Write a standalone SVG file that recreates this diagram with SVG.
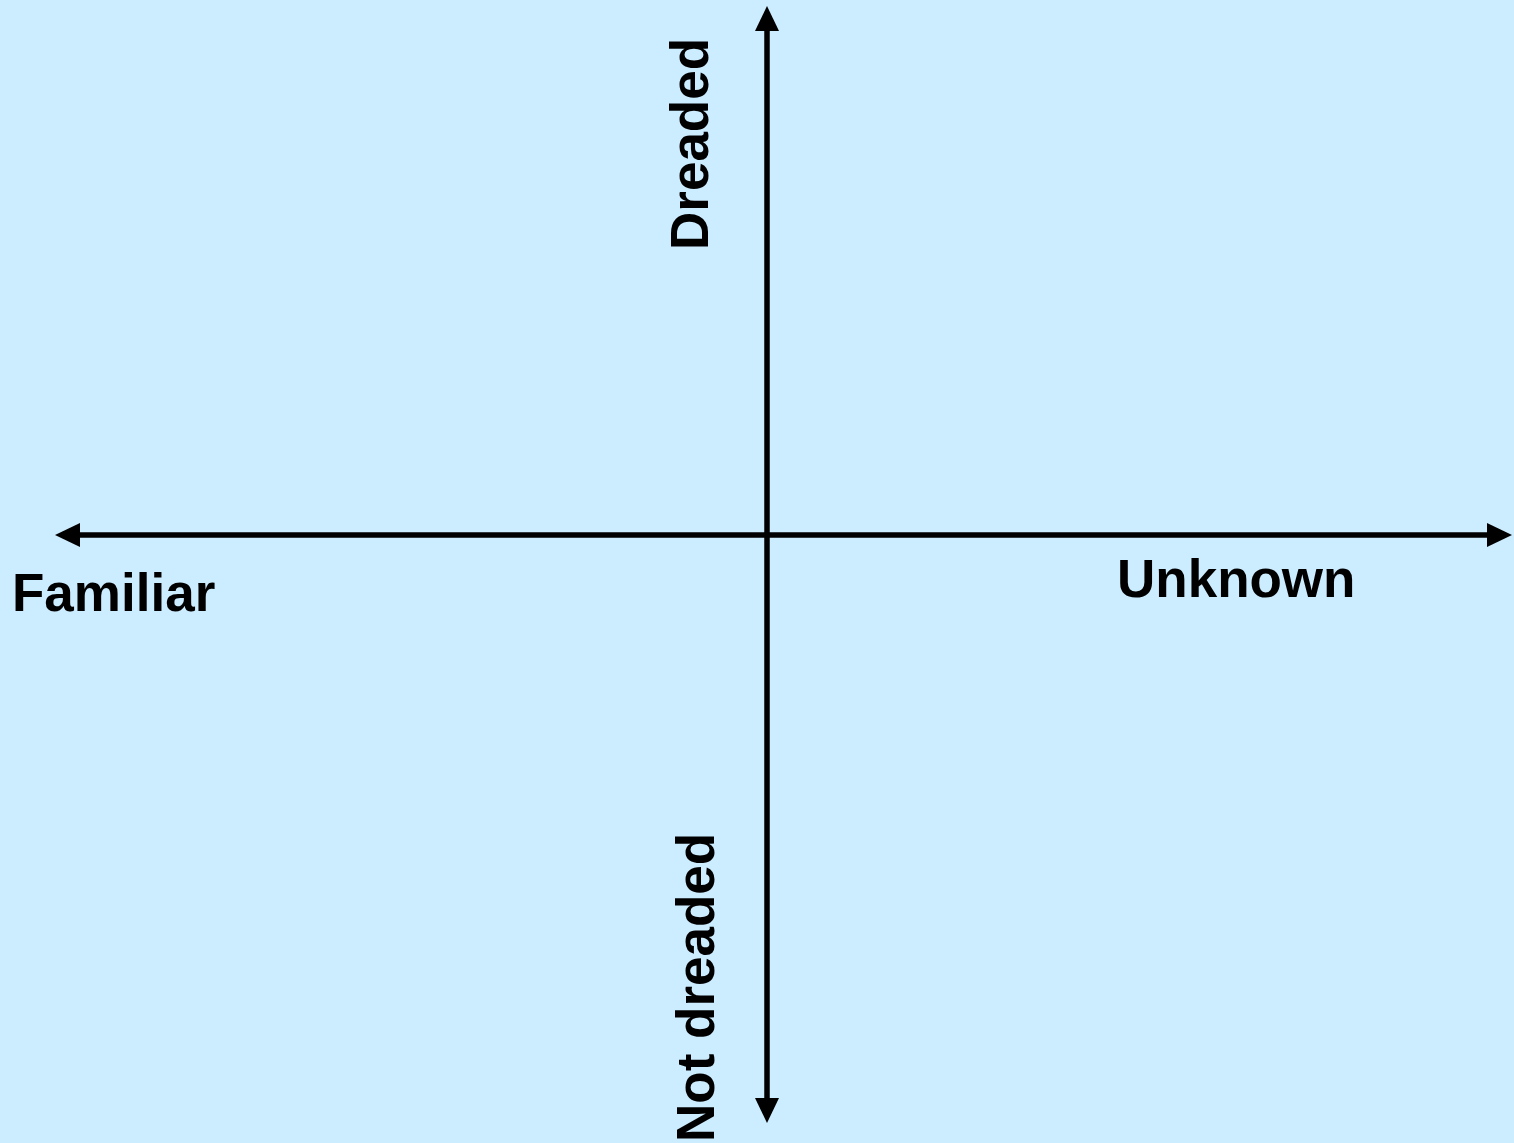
<svg xmlns="http://www.w3.org/2000/svg" width="1514" height="1143" viewBox="0 0 1514 1143">
<style>
.lbl{font-family:"Liberation Sans",Arial,sans-serif;font-weight:bold;font-size:53px;fill:#000}
.ax{stroke:#000;stroke-width:5.5;fill:none}
</style>
<rect x="0" y="0" width="1514" height="1143" fill="#CCECFF"/>
<g id="connectors">
<line class="ax" x1="767" y1="28" x2="767" y2="1100"/>
<polygon points="767,6 779,31 755,31" fill="#000"/>
<polygon points="767,1123 779,1098 755,1098" fill="#000"/>
<line class="ax" x1="78" y1="535" x2="1490" y2="535"/>
<polygon points="55,535 80,523 80,547" fill="#000"/>
<polygon points="1512,535 1487,523 1487,547" fill="#000"/>
</g>
<g id="familiar"><text class="lbl" x="12" y="611">Familiar</text></g>
<g id="unknown"><text class="lbl" x="1117" y="597">Unknown</text></g>
<g id="dreaded"><text class="lbl" transform="translate(708,250) rotate(-90)">Dreaded</text></g>
<g id="not-dreaded"><text class="lbl" transform="translate(714,1142) rotate(-90)">Not dreaded</text></g>
</svg>
